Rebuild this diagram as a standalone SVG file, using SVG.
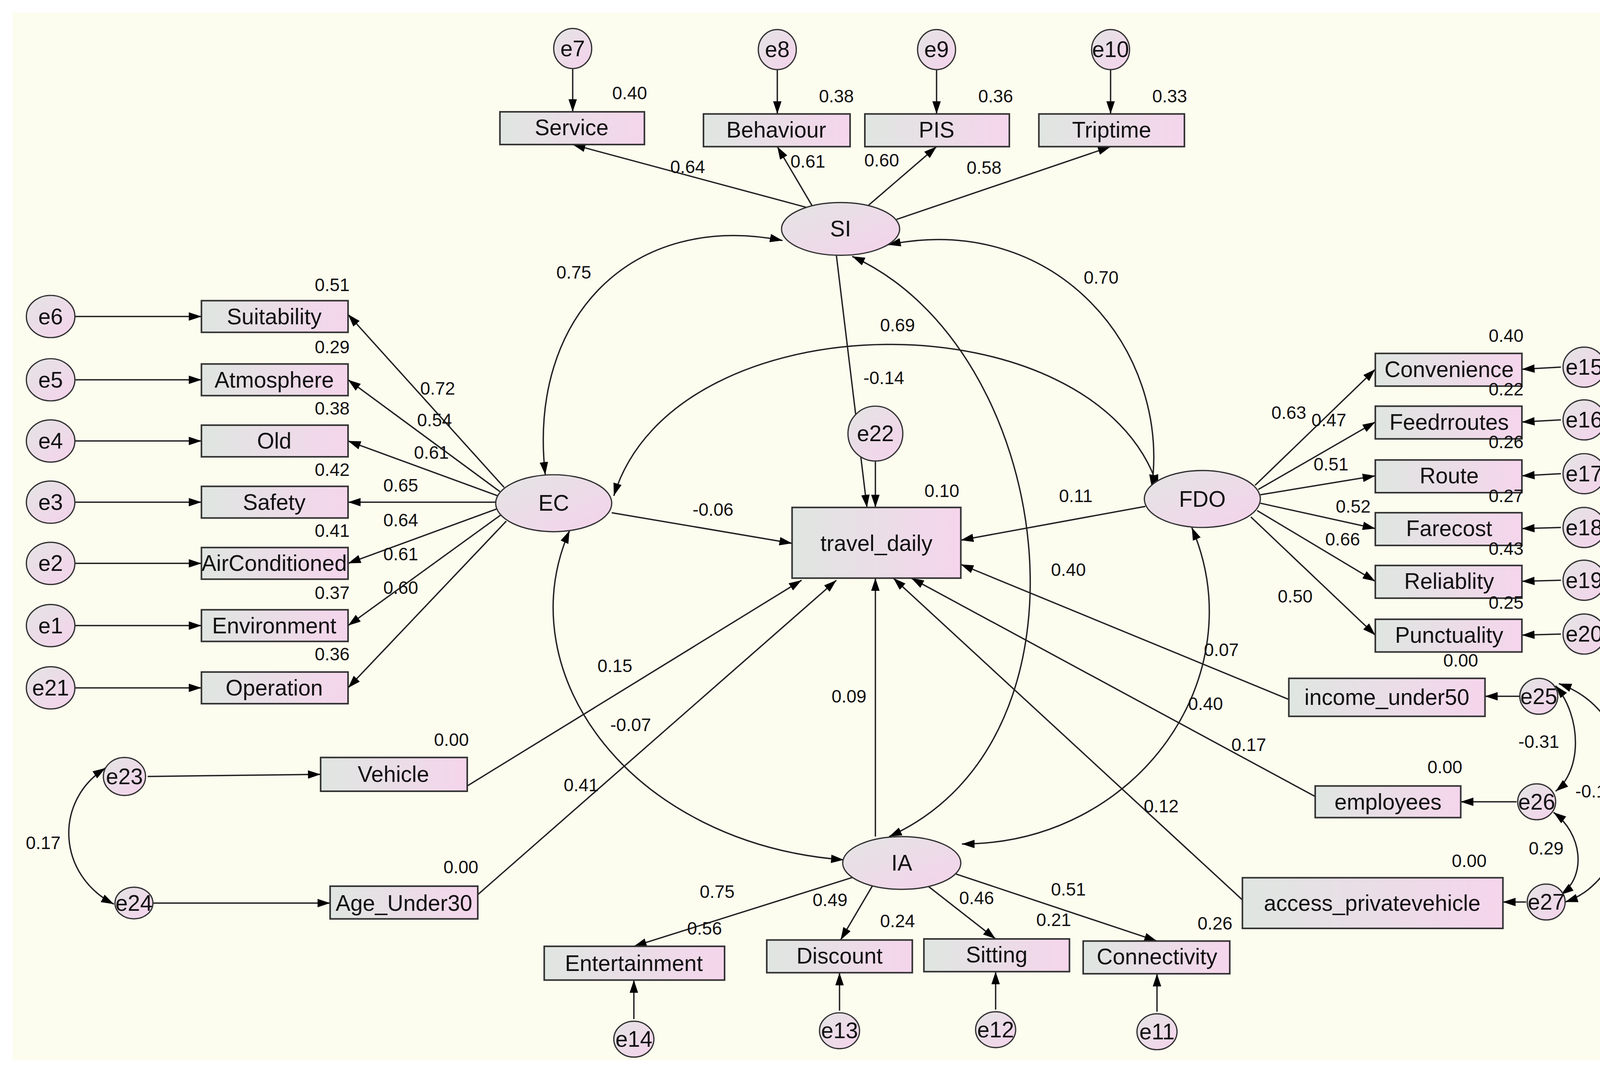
<svg xmlns="http://www.w3.org/2000/svg" width="4233" height="2741" viewBox="0 0 4233 2741">
<defs>
<linearGradient id="bg" x1="0" y1="0" x2="1" y2="0"><stop offset="0" stop-color="#dfe6e1"/><stop offset="1" stop-color="#f5d5ec"/></linearGradient>
<linearGradient id="eg" x1="0" y1="0" x2="1" y2="1"><stop offset="0" stop-color="#e3e5e3"/><stop offset="1" stop-color="#f5d2ec"/></linearGradient>
<marker id="a" viewBox="0 0 12 8" refX="12" refY="4" markerWidth="12" markerHeight="8" markerUnits="userSpaceOnUse" orient="auto-start-reverse"><path d="M0,0 L12,4 L0,8 z" fill="#000"/></marker>
</defs>
<style>
.b{fill:url(#bg);stroke:#333;stroke-width:1.5}
.e{fill:url(#eg);stroke:#333;stroke-width:1.2}
.t{font-family:"Liberation Sans",Arial,sans-serif;font-size:21px;fill:#111;text-anchor:middle;dominant-baseline:central}
.n{font-family:"Liberation Sans",Arial,sans-serif;font-size:17px;fill:#111;text-anchor:middle;dominant-baseline:central}
.c path,.c line{fill:none;stroke:#222;stroke-width:1.3}
.s{marker-end:url(#a)}
.d{marker-end:url(#a);marker-start:url(#a)}
</style>
<rect width="4233" height="2741" fill="#fff"/>
<g transform="scale(2.7)">
<rect x="12" y="12" width="1543" height="993" fill="#fdfdef"/>
<g class="c" id="connectors">
<line class="s" x1="543" y1="65" x2="543" y2="106"/>
<line class="s" x1="737" y1="66" x2="737" y2="108"/>
<line class="s" x1="888" y1="66" x2="888" y2="108"/>
<line class="s" x1="1053" y1="66" x2="1053" y2="108"/>
<line class="s" x1="770" y1="198" x2="543" y2="137"/>
<line class="s" x1="770" y1="195" x2="737" y2="139"/>
<line class="s" x1="823" y1="195" x2="888" y2="139"/>
<line class="s" x1="850" y1="208" x2="1053" y2="139"/>
<line class="s" x1="70" y1="300" x2="191" y2="300"/>
<line class="s" x1="70" y1="360" x2="191" y2="360"/>
<line class="s" x1="70" y1="418" x2="191" y2="418"/>
<line class="s" x1="70" y1="476" x2="191" y2="476"/>
<line class="s" x1="70" y1="534" x2="191" y2="534"/>
<line class="s" x1="70" y1="593" x2="191" y2="593"/>
<line class="s" x1="70" y1="652" x2="191" y2="652"/>
<line class="s" x1="478" y1="462" x2="330" y2="298"/>
<line class="s" x1="474" y1="466" x2="330" y2="360"/>
<line class="s" x1="472" y1="470" x2="330" y2="418"/>
<line class="s" x1="471" y1="476" x2="330" y2="476"/>
<line class="s" x1="472" y1="482" x2="330" y2="534"/>
<line class="s" x1="475" y1="488" x2="330" y2="593"/>
<line class="s" x1="480" y1="494" x2="330" y2="652"/>
<line class="s" x1="1190" y1="460" x2="1304" y2="350"/>
<line class="s" x1="1193" y1="464" x2="1304" y2="400"/>
<line class="s" x1="1195" y1="469" x2="1304" y2="451"/>
<line class="s" x1="1195" y1="477" x2="1304" y2="501"/>
<line class="s" x1="1192" y1="484" x2="1304" y2="551"/>
<line class="s" x1="1186" y1="490" x2="1304" y2="602"/>
<line class="s" x1="1480" y1="348" x2="1443" y2="350"/>
<line class="s" x1="1480" y1="398" x2="1443" y2="400"/>
<line class="s" x1="1480" y1="449" x2="1443" y2="451"/>
<line class="s" x1="1480" y1="500" x2="1443" y2="501"/>
<line class="s" x1="1480" y1="550" x2="1443" y2="551"/>
<line class="s" x1="1480" y1="601" x2="1443" y2="602"/>
<line class="s" x1="793" y1="242" x2="822" y2="481"/>
<line class="s" x1="830" y1="437" x2="830" y2="481"/>
<line class="s" x1="580" y1="486" x2="751" y2="515"/>
<line class="s" x1="1086" y1="480" x2="911" y2="512"/>
<line class="s" x1="443" y1="745" x2="760" y2="550"/>
<line class="s" x1="453" y1="848" x2="793" y2="550"/>
<line class="s" x1="830" y1="793" x2="830" y2="548"/>
<line class="s" x1="1222" y1="663" x2="911" y2="535"/>
<line class="s" x1="1247" y1="755" x2="864" y2="548"/>
<line class="s" x1="1178" y1="853" x2="847" y2="548"/>
<line class="s" x1="1441" y1="660" x2="1408" y2="660"/>
<line class="s" x1="1438" y1="760" x2="1385" y2="760"/>
<line class="s" x1="1447" y1="855" x2="1425" y2="855"/>
<line class="s" x1="140" y1="736" x2="304" y2="734"/>
<line class="s" x1="145" y1="856" x2="313" y2="856"/>
<line class="s" x1="820" y1="828" x2="601" y2="897"/>
<line class="s" x1="827" y1="840" x2="797" y2="891"/>
<line class="s" x1="880" y1="840" x2="944" y2="890"/>
<line class="s" x1="905" y1="828" x2="1097" y2="892"/>
<line class="s" x1="601" y1="966" x2="601" y2="929"/>
<line class="s" x1="796" y1="958" x2="796" y2="922"/>
<line class="s" x1="944" y1="957" x2="944" y2="921"/>
<line class="s" x1="1097" y1="959" x2="1097" y2="923"/>
<path class="d" d="M742,228 C600,200 500,300 517,450"/>
<path class="d" d="M842,232 C1000,200 1110,330 1092,462"/>
<path class="d" d="M582,470 C640,280 1040,280 1098,462"/>
<path class="d" d="M808,243 C1000,330 1050,700 843,793"/>
<path class="d" d="M540,503 C480,640 600,800 800,815"/>
<path class="d" d="M1130,500 C1190,640 1080,800 912,800"/>
<path class="d" d="M1475,650 C1500,680 1500,730 1475,750"/>
<path class="d" d="M1473,770 C1500,790 1505,830 1480,848"/>
<path class="d" d="M1478,648 C1570,680 1560,830 1484,855"/>
<path class="d" d="M100,728 C50,760 55,830 108,857"/>
</g>
<g id="SI"><ellipse class="e" cx="797" cy="217" rx="56" ry="25"/><text class="t" x="797" y="217">SI</text></g>
<g id="EC"><ellipse class="e" cx="525" cy="477" rx="55" ry="27"/><text class="t" x="525" y="477">EC</text></g>
<g id="FDO"><ellipse class="e" cx="1140" cy="473" rx="55" ry="27"/><text class="t" x="1140" y="473">FDO</text></g>
<g id="IA"><ellipse class="e" cx="855" cy="818" rx="56" ry="25"/><text class="t" x="855" y="818">IA</text></g>
<g id="travel_daily"><rect class="b" x="751" y="481" width="160" height="67"/><text class="t" x="831" y="515">travel_daily</text></g>
<g id="e22"><ellipse class="e" cx="830" cy="411" rx="26" ry="26"/><text class="t" x="830" y="411">e22</text></g>
<g id="Service"><rect class="b" x="474" y="106" width="137" height="31"/><text class="t" x="542" y="121">Service</text></g>
<g id="Behaviour"><rect class="b" x="667" y="108" width="139" height="31"/><text class="t" x="736" y="123">Behaviour</text></g>
<g id="PIS"><rect class="b" x="820" y="108" width="137" height="31"/><text class="t" x="888" y="123">PIS</text></g>
<g id="Triptime"><rect class="b" x="985" y="108" width="138" height="31"/><text class="t" x="1054" y="123">Triptime</text></g>
<g id="e7"><ellipse class="e" cx="543" cy="46" rx="18" ry="19"/><text class="t" x="543" y="46">e7</text></g>
<g id="e8"><ellipse class="e" cx="737" cy="47" rx="18" ry="19"/><text class="t" x="737" y="47">e8</text></g>
<g id="e9"><ellipse class="e" cx="888" cy="47" rx="18" ry="19"/><text class="t" x="888" y="47">e9</text></g>
<g id="e10"><ellipse class="e" cx="1053" cy="47" rx="18" ry="19"/><text class="t" x="1053" y="47">e10</text></g>
<g id="Suitability"><rect class="b" x="191" y="285" width="139" height="30"/><text class="t" x="260" y="300">Suitability</text></g>
<g id="Atmosphere"><rect class="b" x="191" y="345" width="139" height="30"/><text class="t" x="260" y="360">Atmosphere</text></g>
<g id="Old"><rect class="b" x="191" y="403" width="139" height="30"/><text class="t" x="260" y="418">Old</text></g>
<g id="Safety"><rect class="b" x="191" y="461" width="139" height="30"/><text class="t" x="260" y="476">Safety</text></g>
<g id="AirConditioned"><rect class="b" x="191" y="519" width="139" height="30"/><text class="t" x="260" y="534">AirConditioned</text></g>
<g id="Environment"><rect class="b" x="191" y="578" width="139" height="30"/><text class="t" x="260" y="593">Environment</text></g>
<g id="Operation"><rect class="b" x="191" y="637" width="139" height="30"/><text class="t" x="260" y="652">Operation</text></g>
<g id="e6"><ellipse class="e" cx="48" cy="300" rx="23" ry="20"/><text class="t" x="48" y="300">e6</text></g>
<g id="e5"><ellipse class="e" cx="48" cy="360" rx="23" ry="20"/><text class="t" x="48" y="360">e5</text></g>
<g id="e4"><ellipse class="e" cx="48" cy="418" rx="23" ry="20"/><text class="t" x="48" y="418">e4</text></g>
<g id="e3"><ellipse class="e" cx="48" cy="476" rx="23" ry="20"/><text class="t" x="48" y="476">e3</text></g>
<g id="e2"><ellipse class="e" cx="48" cy="534" rx="23" ry="20"/><text class="t" x="48" y="534">e2</text></g>
<g id="e1"><ellipse class="e" cx="48" cy="593" rx="23" ry="20"/><text class="t" x="48" y="593">e1</text></g>
<g id="e21"><ellipse class="e" cx="48" cy="652" rx="23" ry="20"/><text class="t" x="48" y="652">e21</text></g>
<g id="Convenience"><rect class="b" x="1304" y="335" width="139" height="31"/><text class="t" x="1374" y="350">Convenience</text></g>
<g id="Feedrroutes"><rect class="b" x="1304" y="385" width="139" height="31"/><text class="t" x="1374" y="400">Feedrroutes</text></g>
<g id="Route"><rect class="b" x="1304" y="436" width="139" height="31"/><text class="t" x="1374" y="451">Route</text></g>
<g id="Farecost"><rect class="b" x="1304" y="486" width="139" height="31"/><text class="t" x="1374" y="501">Farecost</text></g>
<g id="Reliablity"><rect class="b" x="1304" y="536" width="139" height="31"/><text class="t" x="1374" y="551">Reliablity</text></g>
<g id="Punctuality"><rect class="b" x="1304" y="587" width="139" height="31"/><text class="t" x="1374" y="602">Punctuality</text></g>
<g id="e15"><ellipse class="e" cx="1502" cy="348" rx="20" ry="19"/><text class="t" x="1502" y="348">e15</text></g>
<g id="e16"><ellipse class="e" cx="1502" cy="398" rx="20" ry="19"/><text class="t" x="1502" y="398">e16</text></g>
<g id="e17"><ellipse class="e" cx="1502" cy="449" rx="20" ry="19"/><text class="t" x="1502" y="449">e17</text></g>
<g id="e18"><ellipse class="e" cx="1502" cy="500" rx="20" ry="19"/><text class="t" x="1502" y="500">e18</text></g>
<g id="e19"><ellipse class="e" cx="1502" cy="550" rx="20" ry="19"/><text class="t" x="1502" y="550">e19</text></g>
<g id="e20"><ellipse class="e" cx="1502" cy="601" rx="20" ry="19"/><text class="t" x="1502" y="601">e20</text></g>
<g id="income_under50"><rect class="b" x="1222" y="643" width="186" height="36"/><text class="t" x="1315" y="661">income_under50</text></g>
<g id="employees"><rect class="b" x="1247" y="745" width="138" height="30"/><text class="t" x="1316" y="760">employees</text></g>
<g id="access_privatevehicle"><rect class="b" x="1178" y="832" width="247" height="48"/><text class="t" x="1301" y="856">access_privatevehicle</text></g>
<g id="e25"><ellipse class="e" cx="1459" cy="660" rx="18" ry="17"/><text class="t" x="1459" y="660">e25</text></g>
<g id="e26"><ellipse class="e" cx="1457" cy="760" rx="18" ry="17"/><text class="t" x="1457" y="760">e26</text></g>
<g id="e27"><ellipse class="e" cx="1466" cy="855" rx="18" ry="17"/><text class="t" x="1466" y="855">e27</text></g>
<g id="Vehicle"><rect class="b" x="304" y="718" width="139" height="32"/><text class="t" x="373" y="734">Vehicle</text></g>
<g id="Age_Under30"><rect class="b" x="313" y="840" width="140" height="31"/><text class="t" x="383" y="856">Age_Under30</text></g>
<g id="e23"><ellipse class="e" cx="118" cy="736" rx="20" ry="18"/><text class="t" x="118" y="736">e23</text></g>
<g id="e24"><ellipse class="e" cx="127" cy="856" rx="18" ry="15"/><text class="t" x="127" y="856">e24</text></g>
<g id="Entertainment"><rect class="b" x="516" y="897" width="171" height="32"/><text class="t" x="601" y="913">Entertainment</text></g>
<g id="Discount"><rect class="b" x="727" y="891" width="138" height="31"/><text class="t" x="796" y="906">Discount</text></g>
<g id="Sitting"><rect class="b" x="876" y="890" width="138" height="31"/><text class="t" x="945" y="905">Sitting</text></g>
<g id="Connectivity"><rect class="b" x="1027" y="892" width="139" height="31"/><text class="t" x="1097" y="907">Connectivity</text></g>
<g id="e14"><ellipse class="e" cx="601" cy="985" rx="19" ry="17"/><text class="t" x="601" y="985">e14</text></g>
<g id="e13"><ellipse class="e" cx="796" cy="977" rx="19" ry="17"/><text class="t" x="796" y="977">e13</text></g>
<g id="e12"><ellipse class="e" cx="944" cy="976" rx="19" ry="17"/><text class="t" x="944" y="976">e12</text></g>
<g id="e11"><ellipse class="e" cx="1097" cy="978" rx="19" ry="17"/><text class="t" x="1097" y="978">e11</text></g>
<g id="labels">
<text class="n" x="597" y="88">0.40</text><text class="n" x="793" y="91">0.38</text><text class="n" x="944" y="91">0.36</text><text class="n" x="1109" y="91">0.33</text>
<text class="n" x="652" y="158">0.64</text><text class="n" x="766" y="153">0.61</text><text class="n" x="836" y="152">0.60</text><text class="n" x="933" y="159">0.58</text>
<text class="n" x="315" y="270">0.51</text><text class="n" x="315" y="329">0.29</text><text class="n" x="315" y="387">0.38</text><text class="n" x="315" y="445">0.42</text><text class="n" x="315" y="503">0.41</text><text class="n" x="315" y="562">0.37</text><text class="n" x="315" y="620">0.36</text>
<text class="n" x="415" y="368">0.72</text><text class="n" x="412" y="398">0.54</text><text class="n" x="409" y="429">0.61</text><text class="n" x="380" y="460">0.65</text><text class="n" x="380" y="493">0.64</text><text class="n" x="380" y="525">0.61</text><text class="n" x="380" y="557">0.60</text>
<text class="n" x="1428" y="318">0.40</text><text class="n" x="1428" y="369">0.22</text><text class="n" x="1428" y="419">0.26</text><text class="n" x="1428" y="470">0.27</text><text class="n" x="1428" y="520">0.43</text><text class="n" x="1428" y="571">0.25</text>
<text class="n" x="1222" y="391">0.63</text><text class="n" x="1260" y="398">0.47</text><text class="n" x="1262" y="440">0.51</text><text class="n" x="1283" y="480">0.52</text><text class="n" x="1273" y="511">0.66</text><text class="n" x="1228" y="565">0.50</text>
<text class="n" x="544" y="258">0.75</text><text class="n" x="1044" y="263">0.70</text><text class="n" x="851" y="308">0.69</text><text class="n" x="838" y="358">-0.14</text>
<text class="n" x="893" y="465">0.10</text><text class="n" x="676" y="483">-0.06</text><text class="n" x="1020" y="470">0.11</text><text class="n" x="1013" y="540">0.40</text>
<text class="n" x="583" y="631">0.15</text><text class="n" x="598" y="687">-0.07</text><text class="n" x="551" y="744">0.41</text><text class="n" x="805" y="660">0.09</text>
<text class="n" x="1158" y="616">0.07</text><text class="n" x="1143" y="667">0.40</text><text class="n" x="1184" y="706">0.17</text><text class="n" x="1101" y="764">0.12</text>
<text class="n" x="1385" y="626">0.00</text><text class="n" x="1370" y="727">0.00</text><text class="n" x="1393" y="816">0.00</text>
<text class="n" x="1459" y="703">-0.31</text><text class="n" x="1466" y="804">0.29</text><text class="n" x="1513" y="750">-0.18</text>
<text class="n" x="428" y="701">0.00</text><text class="n" x="437" y="822">0.00</text><text class="n" x="41" y="799">0.17</text>
<text class="n" x="680" y="845">0.75</text><text class="n" x="668" y="880">0.56</text><text class="n" x="787" y="853">0.49</text><text class="n" x="851" y="873">0.24</text><text class="n" x="926" y="851">0.46</text><text class="n" x="999" y="872">0.21</text><text class="n" x="1013" y="843">0.51</text><text class="n" x="1152" y="875">0.26</text>
</g>
</g>
</svg>
